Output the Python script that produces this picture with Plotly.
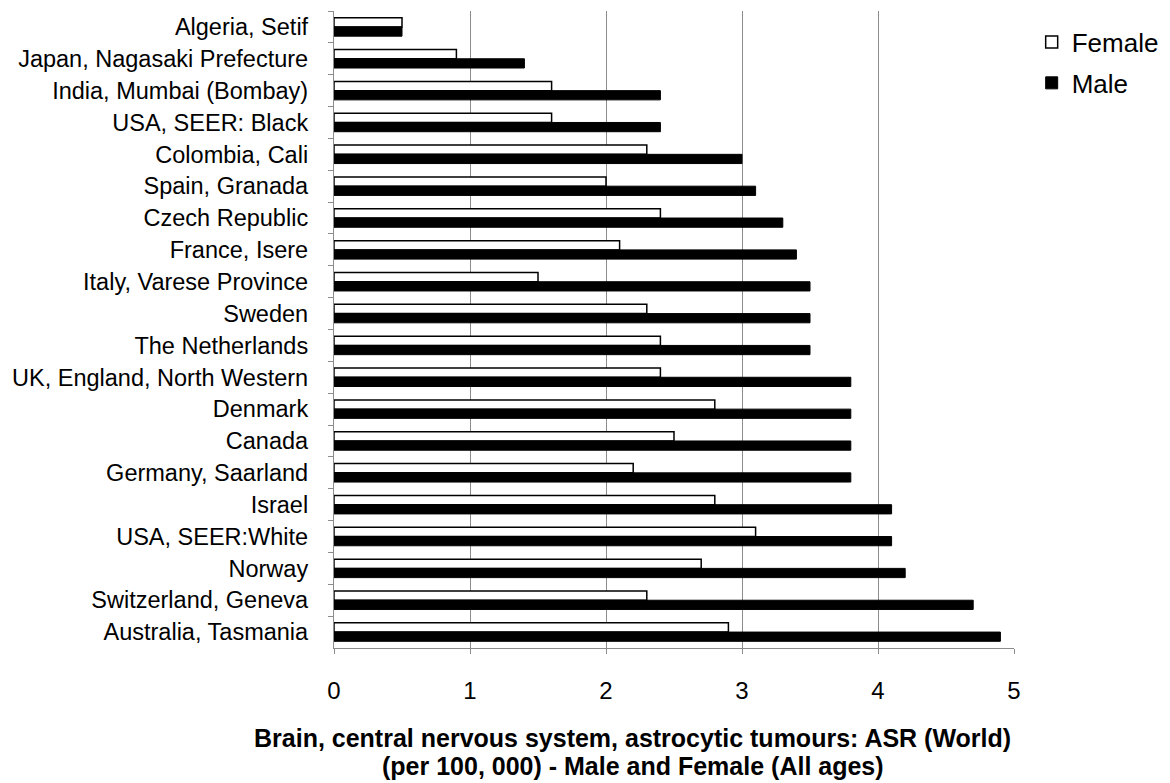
import plotly.graph_objects as go

categories = ["Algeria, Setif", "Japan, Nagasaki Prefecture", "India, Mumbai (Bombay)",
              "USA, SEER: Black", "Colombia, Cali", "Spain, Granada", "Czech Republic",
              "France, Isere", "Italy, Varese Province", "Sweden", "The Netherlands",
              "UK, England, North Western", "Denmark", "Canada", "Germany, Saarland",
              "Israel", "USA, SEER:White", "Norway", "Switzerland, Geneva", "Australia, Tasmania"]
female = [0.5, 0.9, 1.6, 1.6, 2.3, 2.0, 2.4, 2.1, 1.5, 2.3, 2.4, 2.4, 2.8, 2.5, 2.2,
          2.8, 3.1, 2.7, 2.3, 2.9]
male = [0.5, 1.4, 2.4, 2.4, 3.0, 3.1, 3.3, 3.4, 3.5, 3.5, 3.5, 3.8, 3.8, 3.8, 3.8,
        4.1, 4.1, 4.2, 4.7, 4.9]
x_ticks = [0, 1, 2, 3, 4, 5]
title_lines = ["Brain, central nervous system, astrocytic tumours: ASR (World)",
               "(per 100, 000) - Male and Female (All ages)"]

FONT = "Liberation Sans, Arial, sans-serif"
GRAY = "#8c8c8c"

fig = go.Figure()
fig.add_trace(go.Bar(y=categories, x=female, orientation="h", name="Female",
                     legendgroup="f",
                     marker=dict(color="white", line=dict(color="black", width=1.5))))
fig.add_trace(go.Bar(y=categories, x=male, orientation="h", name="Male",
                     legendgroup="m",
                     marker=dict(color="black", line=dict(color="black", width=1))))

fig.update_layout(
    width=1154, height=775,
    margin=dict(l=326, r=148, t=3, b=135, autoexpand=False),
    paper_bgcolor="white", plot_bgcolor="white",
    barmode="group", bargap=0.42, bargroupgap=0,
    font=dict(family=FONT, size=24, color="black"),
    legend=dict(x=1.026, y=0.988, xanchor="left", yanchor="top",
                font=dict(size=26), itemwidth=30, tracegroupgap=4,
                bgcolor="rgba(0,0,0,0)"),
    showlegend=True,
)
for line, yy in zip(title_lines, [-0.1413, -0.1852]):
    fig.add_annotation(text="<b>" + line + "</b>", xref="paper", yref="paper",
                       x=0.4393, y=yy, xanchor="center", yanchor="middle",
                       showarrow=False, font=dict(size=25, color="black"))

fig.update_xaxes(range=[0, 5], tickvals=x_ticks, showgrid=True, gridcolor=GRAY,
                 gridwidth=1.3, showline=True, linecolor=GRAY, linewidth=1.3,
                 ticks="outside", ticklen=5, tickcolor=GRAY, zeroline=False,
                 tickfont=dict(size=24), ticklabelstandoff=16, automargin=False)
fig.update_yaxes(autorange="reversed", showline=True, linecolor=GRAY, linewidth=1.3,
                 ticks="outside", ticklen=5, tickcolor=GRAY, tickson="boundaries",
                 showgrid=False, tickfont=dict(size=23.5), ticklabelstandoff=20,
                 automargin=False)

fig.write_html("out.html")
